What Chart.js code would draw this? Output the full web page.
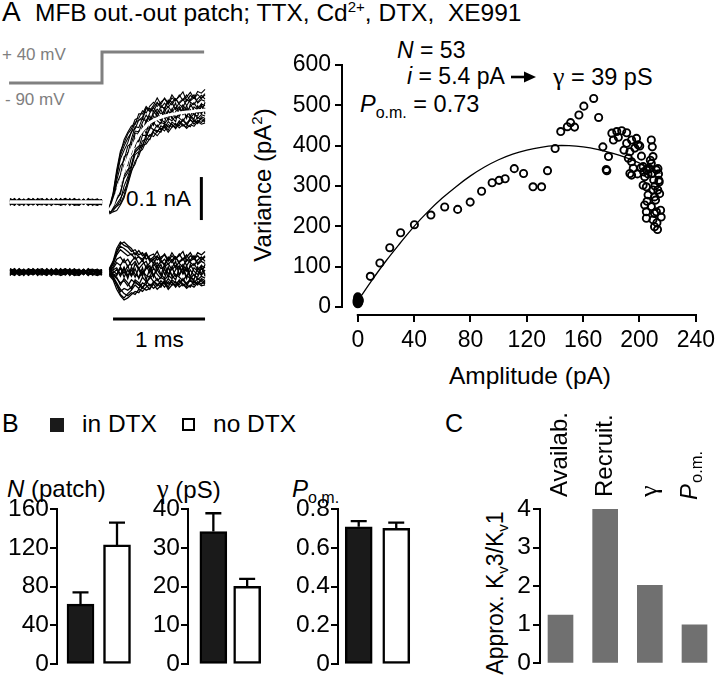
<!DOCTYPE html>
<html><head><meta charset="utf-8">
<script src="https://cdn.jsdelivr.net/npm/chart.js@4.4.1/dist/chart.umd.min.js"></script>
<style>
body{margin:0;width:720px;height:675px;background:#fff;position:relative;overflow:hidden;font-family:"Liberation Sans",Arial,Helvetica,sans-serif;color:#000}
canvas{position:absolute}
.t{position:absolute;white-space:nowrap;line-height:1}
.rot{position:absolute;white-space:nowrap;line-height:1;transform:translate(-50%,-50%) rotate(-90deg)}
.sub{font-size:16px;position:relative;top:6px}
.sup{font-size:15px;position:relative;top:-9px}
.g{font-family:"Liberation Serif","Times New Roman",serif;font-size:1.1em}
</style></head><body>

<div class="t" style="left:2px;top:-2px;font-size:28px">A</div>
<div class="t" style="left:35px;top:1px;font-size:24.5px">MFB out.-out patch; TTX, Cd<span class="sup">2+</span>, DTX,&nbsp; XE991</div>
<div class="t" style="left:2px;top:46px;font-size:17px;color:#808080">+ 40 mV</div>
<div class="t" style="left:5px;top:91px;font-size:17px;color:#808080">- 90 mV</div>
<div class="t" style="left:126px;top:188px;font-size:22.5px">0.1 nA</div>
<div class="t" style="left:135px;top:329px;font-size:22.5px">1 ms</div>

<div class="t" style="left:397px;top:39px;font-size:23px"><i>N</i> = 53</div>
<div class="t" style="left:407px;top:65px;font-size:23px"><i>i</i> = 5.4 pA</div>
<svg style="position:absolute;left:511px;top:71px" width="26" height="12"><line x1="0" y1="6" x2="15" y2="6" stroke="#000" stroke-width="2.6"/><polygon points="13,0.5 25,6 13,11.5" fill="#000"/></svg>
<div class="t" style="left:553px;top:64px;font-size:23.5px"><span class="g">γ</span> = 39 pS</div>
<div class="t" style="left:360px;top:93px;font-size:23.5px"><i>P</i><span class="sub">o.m.</span> = 0.73</div>
<div class="rot" style="left:263px;top:185px;font-size:24px">Variance (pA<span class="sup">2</span>)</div>
<div class="t" style="left:430px;top:364px;font-size:24.5px;width:200px;text-align:center">Amplitude (pA)</div>

<div class="t" style="left:2px;top:411px;font-size:25px">B</div>
<div style="position:absolute;left:50px;top:418px;width:14px;height:14px;background:#1a1a1a"></div>
<div class="t" style="left:82px;top:412px;font-size:24.5px">in DTX</div>
<div style="position:absolute;left:182px;top:418px;width:9px;height:9px;border:2.5px solid #000;background:#fff"></div>
<div class="t" style="left:213px;top:412px;font-size:24.5px">no DTX</div>
<div class="t" style="left:7px;top:477px;font-size:24px"><i>N</i> (patch)</div>
<div class="t" style="left:157px;top:476px;font-size:24px"><span class="g">γ</span> (pS)</div>
<div class="t" style="left:292px;top:477px;font-size:24px"><i>P</i><span class="sub">o.m.</span></div>

<div class="t" style="left:445px;top:411px;font-size:25px">C</div>
<div class="rot" style="left:495px;top:593px;font-size:23px">Approx. K<span class="sub" style="font-size:15px;top:5px">v</span>3/K<span class="sub" style="font-size:15px;top:5px">v</span>1</div>

<canvas id="traces" width="220" height="290" style="left:0;top:40px"></canvas>
<canvas id="scatter" width="440" height="310" style="left:280px;top:45px"></canvas>
<canvas id="b1" width="145" height="190" style="left:0;top:490px"></canvas>
<canvas id="b2" width="140" height="190" style="left:130px;top:490px"></canvas>
<canvas id="b3" width="140" height="190" style="left:280px;top:490px"></canvas>
<canvas id="c1" width="240" height="280" style="left:480px;top:400px"></canvas>

<script>
// ---------- DATA ----------
// Panel A, traces (time in ms, current in pA)
const traceTimeBase = [-1.0,-0.95,-0.9,-0.85,-0.8,-0.75,-0.7,-0.65,-0.6,-0.55,-0.5,-0.45,-0.4,-0.35,-0.3,-0.25,-0.2,-0.15,-0.1,-0.05,0.0];
const traceTimePost = [0.08,0.12,0.16,0.20,0.24,0.28,0.32,0.36,0.40,0.44,0.48,0.52,0.56,0.60,0.64,0.68,0.72,0.76,0.80,0.84,0.88,0.92,0.96,1.00,1.04,1.08,1.12];
const meanBase = [0,0,0,0,0,0,0,0,0,0,0,0,0,0,0,0,0,0,0,0,0];
const meanPost = [-20,-5,20,48,75,100,122,140,155,167,177,185,190,194,197,200,202,204,205,207,208,209,210,211,212,213,214];
const devBase = [
 [5,-3,7,2,-5,8,0,-6,3,5,-2,7,-5,2,8,-3,5,-7,2,3,-2],
 [-7,2,-3,5,-8,0,3,-5,7,-2,-6,3,0,-5,2,6,-3,0,-8,5,2],
 [2,8,-5,-2,6,-3,8,2,-6,0,5,-5,8,3,-3,0,6,-2,5,-6,3],
 [-3,-8,3,-6,2,5,-7,3,0,-8,2,-2,-6,5,-5,-8,0,3,-3,-2,-5],
 [8,3,-2,6,0,-5,5,8,-3,6,0,5,2,-3,7,3,-5,8,0,2,6],
 [-5,0,-8,-3,5,-6,-2,-3,-8,3,-5,-7,-3,0,-8,-5,2,-6,-5,-8,-3],
 [0,5,2,-5,8,3,-5,6,2,-3,8,0,5,-8,3,2,-6,5,7,-3,0],
 [3,-5,6,0,-3,-2,7,-2,5,2,-3,8,-2,6,0,-6,3,-3,2,6,-6],
 [-6,4,0,7,-3,-6,4,1,-7,5,3,-4,6,-2,-7,5,1,-5,6,-1,4],
 [4,-7,5,-2,-6,2,6,-5,4,-4,7,-3,-1,7,-4,3,-6,4,-2,-7,5],
 [7,0,-4,4,3,-7,1,5,-5,8,-6,2,4,-6,5,-2,7,-3,-6,5,-1],
 [-2,6,-6,1,7,-1,-5,-7,6,-3,4,-8,-4,5,-1,7,-4,6,3,-4,-7],
 [1,-6,3,-8,4,6,-3,2,-4,7,-5,5,-7,1,6,-5,2,-8,4,7,-2],
 [-8,5,-1,3,-7,4,-6,7,1,-5,2,-1,6,-4,3,-7,5,0,-4,3,6],
 [6,-1,8,-4,1,-3,5,-4,8,-1,-6,6,-3,8,-6,4,-2,7,-5,1,-4],
 [-4,7,-3,5,-1,7,-8,3,-2,6,-4,3,8,-5,2,-3,6,-4,5,-3,3]
];
const devPost = [
 [8,25,55,70,62,58,48,52,40,45,30,38,42,28,35,40,25,38,30,42,28,35,45,30,38,28,35],
 [-6,-10,-25,-40,-50,-55,-48,-52,-40,-45,-35,-28,-38,-30,-25,-35,-22,-30,-28,-20,-32,-25,-18,-30,-22,-28,-20],
 [3,12,30,35,22,30,15,25,8,18,25,5,15,22,8,12,20,5,15,8,18,2,12,20,5,15,10],
 [-3,-8,-15,-25,-20,-32,-18,-25,-30,-12,-22,-15,-5,-20,-12,-18,-8,-15,-5,-12,-20,-8,-15,-5,-18,-10,-14],
 [5,18,40,52,45,38,42,30,36,25,40,32,20,35,28,15,32,22,35,20,12,30,22,15,28,35,25],
 [-5,-15,-30,-45,-38,-42,-35,-22,-30,-38,-20,-32,-25,-15,-30,-22,-35,-18,-25,-30,-15,-28,-20,-25,-15,-22,-28],
 [1,5,10,-5,12,-8,5,-12,10,-5,8,15,-8,5,18,-5,10,-10,5,15,-5,8,-12,10,2,-8,5],
 [-1,-4,-8,10,-12,5,-10,8,-15,2,-8,-12,10,-5,-15,8,-12,12,-10,-5,12,-12,5,-8,-12,10,-6],
 [4,20,45,60,55,48,40,45,35,30,42,25,30,38,22,30,18,28,35,22,30,40,25,32,20,30,38],
 [-4,-12,-30,-52,-60,-50,-42,-30,-38,-25,-30,-40,-22,-28,-35,-18,-28,-22,-35,-25,-18,-30,-35,-20,-28,-18,-25],
 [2,8,22,15,30,12,25,35,18,28,10,22,30,12,25,18,35,28,10,25,32,15,28,38,18,25,20],
 [-2,-6,-12,-30,-15,-25,-40,-18,-25,-35,-28,-10,-22,-32,-20,-28,-15,-25,-32,-18,-28,-35,-12,-22,-30,-15,-20],
 [0,3,-5,12,-3,15,-8,20,5,-10,15,-2,22,5,-8,18,-5,10,25,-8,8,-15,18,2,-6,15,-10],
 [1,-2,6,-10,8,-15,12,-5,-12,10,-18,8,-12,15,-5,-15,12,-8,-18,10,-2,15,-10,-18,12,-5,18],
 [6,22,48,65,70,62,55,40,50,38,45,28,35,48,30,42,28,45,32,38,48,25,38,30,45,40,48],
 [-8,-18,-40,-55,-65,-60,-52,-45,-48,-35,-42,-38,-28,-40,-32,-25,-40,-30,-22,-35,-28,-38,-30,-35,-25,-32,-30]
];
const lowerOffset = -163;           // pA offset of the variance traces
const protocolTime = [-1.01, 0, 0, 1.11];
const protocolMv = [-90, -90, 40, 40];
const scaleBarMs = 1, scaleBarPa = 100;
const scaleBarTimeEnd = 1.12, scaleBarHorizY = -272, scaleBarVertX = 1.08, scaleBarVertBottom = -42;

// Panel A, variance vs amplitude
const scatterAmp = [0,0,0,0,0,0.5,0.5,1,-0.5,0,1,-0.5,
 8.9,15.7,22.7,30.4,40.2,51.9,61.7,70.9,79.8,87.9,95.4,100.3,104.6,111.1,117.7,124.4,130.5,134.7,140.1,
 144.1,148.8,151.1,153.9,157,160.5,167.5,171,174,178,176.4,176.8,
 180.4,183.9,187.4,190.9,181.5,185,190.9,194.4,197.9,199.1,189,193.2,196.7,192.1,194.4,195.6,193.2,194.4,
 201.4,202.6,203.7,204.9,206.1,202.6,203.7,204.9,204.9,205.4,
 208.4,209.1,209.6,208.4,209.1,210.1,209.6,210.7,208.4,210.7,209.6,210.7,
 212.4,212.8,213.1,213.8,214.3,215,215.4,212,213.5,211.4,212,207.2,207.7,206,200.2,198.5,205,211,214,213,201,203];
const scatterVar = [8,12,15,18,22,10,20,14,16,25,18,11,
 76,109,147,184,204,228,248,242,260,287,308,314,318,343,331,298,298,338,393,
 435,447,457,446,476,498,517,470,397,373,341,338,
 431,435,437,432,414,421,406,414,418,402,389,385,394,369,360,344,331,327,
 374,348,323,298,278,302,253,236,220,262,
 414,397,373,356,331,315,290,273,249,232,216,199,
 209,192,343,314,281,240,223,340,330,265,236,343,364,330,399,330,340,300,310,290,345,335];
const fitAmp = [0,10,20,30,40,50,60,70,80,90,100,110,120,130,140,150,160,170,180,190,200,210,215];
const fitVar = [15,66,114,158,200,237,270,299,325,347,365,379,389,396,400,400,397,391,382,371,357,341,331];
const scatterXTicks = [0,40,80,120,160,200,240];
const scatterYTicks = [0,100,200,300,400,500,600];

// Panel B
const groups = ['in DTX','no DTX'];
const groupFills = ['#1a1a1a','#ffffff'];
const nPatch = [62,123],   nPatchErr = [12,23];
const gammaPs = [34.2,20.1], gammaErr = [4.7,1.9];
const pOm = [0.708,0.70],  pOmErr = [0.03,0.03];
const nTicks = [0,40,80,120,160];
const gTicks = [0,10,20,30,40];
const pTicks = [0,0.2,0.4,0.6,0.8];

// Panel C
const cCategories = ['Availab.','Recruit.','γ','Po.m.'];
const cRatio = [1.25,4.02,2.02,1.0];
const cTicks = [0,1,2,3,4];

// ---------- CHARTS ----------
const FONT = "'Liberation Sans', Arial, Helvetica, sans-serif";
const SERIF = "'Liberation Serif', 'Times New Roman', serif";
Chart.defaults.font.family = FONT;
Chart.defaults.color = '#000';
Chart.defaults.animation = false;

const prismAxes = {
  id:'prismAxes',
  afterDraw(chart, args, opts){
    if(!opts || !opts.x) return;
    const ctx = chart.ctx, xs = chart.scales.x, ys = chart.scales.y, ca = chart.chartArea;
    ctx.save(); ctx.strokeStyle='#000'; ctx.lineWidth=2;
    ctx.beginPath();
    ctx.moveTo(ca.left-1, ys.getPixelForValue(opts.y[1])-1);
    ctx.lineTo(ca.left-1, ys.getPixelForValue(opts.y[0])+1);
    ctx.moveTo(xs.getPixelForValue(opts.x[0])-1, ca.bottom+1);
    ctx.lineTo(xs.getPixelForValue(opts.x[1])+1, ca.bottom+1);
    ctx.stroke(); ctx.restore();
  }
};
const errorBars = {
  id:'errorBars',
  afterDatasetsDraw(chart){
    const ctx = chart.ctx, ys = chart.scales.y;
    chart.data.datasets.forEach((ds,di)=>{
      if(!ds.errors) return;
      chart.getDatasetMeta(di).data.forEach((el,i)=>{
        const v = ds.data[i].y;
        const yTop = ys.getPixelForValue(v + ds.errors[i]);
        ctx.save(); ctx.strokeStyle='#000'; ctx.lineWidth=2.3;
        ctx.beginPath();
        ctx.moveTo(el.x, el.y); ctx.lineTo(el.x, yTop);
        ctx.moveTo(el.x-8, yTop); ctx.lineTo(el.x+8, yTop);
        ctx.stroke(); ctx.restore();
      });
    });
  }
};
const catLabels = {
  id:'catLabels',
  afterDraw(chart, args, opts){
    if(!opts || !opts.labels) return;
    const ctx = chart.ctx, xs = chart.scales.x, y0 = chart.chartArea.top - opts.gap;
    opts.labels.forEach((lab,i)=>{
      const x = xs.getPixelForValue(i+1);
      ctx.save(); ctx.fillStyle='#000'; ctx.textAlign='left'; ctx.textBaseline='middle';
      if(lab === 'Po.m.'){
        ctx.translate(x-4, y0+3); ctx.rotate(-Math.PI/2);
        ctx.font = 'italic 24px '+FONT; ctx.fillText('P',0,0);
        const w = ctx.measureText('P').width;
        ctx.font = '16.5px '+FONT; ctx.fillText('o.m.', w+1, 7);
      } else if(lab === 'γ'){
        ctx.translate(x, y0); ctx.rotate(-Math.PI/2);
        ctx.font = '26px '+SERIF; ctx.fillText(lab,0,0);
      } else {
        ctx.translate(x, y0); ctx.rotate(-Math.PI/2);
        ctx.font = '24px '+FONT; ctx.fillText(lab,0,0);
      }
      ctx.restore();
    });
  }
};

function xy(xs, ys, off){ return xs.map((x,i)=>({x:x, y:ys[i]+(off||0)})); }
function ln(data, color, width, order, yAxisID){
  return {type:'line', data:data, borderColor:color, borderWidth:width, pointRadius:0, tension:0, fill:false, order:order, yAxisID:yAxisID||'y'};
}

// Traces
const traceSets = [];
traceSets.push(ln(xy(traceTimeBase, meanBase), '#fff', 3.5, 0));
traceSets.push(ln(xy(traceTimePost, meanPost), '#fff', 3, 0));
devBase.forEach(d=>traceSets.push(ln(xy(traceTimeBase, d), '#000', 1.1, 1)));
devPost.forEach(d=>traceSets.push(ln(traceTimePost.map((t,i)=>({x:t, y:meanPost[i]+d[i]})), '#000', 1.1, 1)));
devBase.forEach(d=>traceSets.push(ln(xy(traceTimeBase, d, lowerOffset), '#000', 1.2, 1)));
devPost.forEach(d=>traceSets.push(ln(xy(traceTimePost, d, lowerOffset), '#000', 1.3, 1)));
traceSets.push(ln(xy(protocolTime, protocolMv), '#808080', 3, 1, 'mv'));
traceSets.push(ln([{x:scaleBarTimeEnd-scaleBarMs, y:scaleBarHorizY},{x:scaleBarTimeEnd, y:scaleBarHorizY}], '#000', 3, 1));
traceSets.push(ln([{x:scaleBarVertX, y:scaleBarVertBottom},{x:scaleBarVertX, y:scaleBarVertBottom+scaleBarPa}], '#000', 3, 1));

new Chart(document.getElementById('traces'), {
  type:'line',
  data:{datasets:traceSets},
  options:{responsive:false, animation:false, layout:{padding:0},
    plugins:{legend:{display:false}, tooltip:{enabled:false}},
    scales:{
      x:{type:'linear', min:-1.1087, max:1.2826, display:false},
      y:{type:'linear', min:-297.7, max:376.7, display:false},
      mv:{type:'linear', min:-1125.8, max:90.32, display:false}
    }}
});

// Scatter
new Chart(document.getElementById('scatter'), {
  type:'scatter',
  data:{datasets:[
    {type:'line', data:xy(fitAmp, fitVar), borderColor:'#000', borderWidth:1.3, pointRadius:0, tension:0.4, fill:false, order:0},
    {data:xy(scatterAmp, scatterVar), pointRadius:3.6, pointBorderWidth:1.9, borderColor:'#000', pointBorderColor:'#000', backgroundColor:'rgba(0,0,0,0)', pointBackgroundColor:'rgba(0,0,0,0)', order:1}
  ]},
  options:{responsive:false, animation:false, layout:{padding:{top:20,right:20,left:0,bottom:0}},
    plugins:{legend:{display:false}, tooltip:{enabled:false}, prismAxes:{x:[0,240], y:[0,600]}},
    scales:{
      x:{type:'linear', min:-10.5, max:240,
         afterBuildTicks:s=>{s.ticks=scatterXTicks.map(v=>({value:v}));},
         afterFit:s=>{s.height=41;},
         grid:{drawOnChartArea:false, tickLength:8, color:'#000', lineWidth:2},
         border:{display:false},
         ticks:{font:{size:23}, padding:5, maxRotation:0, autoSkip:false, color:'#000'}},
      y:{type:'linear', min:-17.4, max:600,
         afterBuildTicks:s=>{s.ticks=scatterYTicks.map(v=>({value:v}));},
         afterFit:s=>{s.width=63;},
         grid:{drawOnChartArea:false, tickLength:8, color:'#000', lineWidth:2},
         border:{display:false},
         ticks:{font:{size:23}, padding:4, autoSkip:false, color:'#000'}}
    }},
  plugins:[prismAxes]
});

function barChart(id, values, errs, ticks, xmin, xmax, axisW, thick){
  new Chart(document.getElementById(id), {
    type:'bar',
    data:{datasets:[{data:values.map((v,i)=>({x:i+1, y:v})), errors:errs, label:groups.join('/'),
      backgroundColor:groupFills, borderColor:'#000', borderWidth:2.5, borderSkipped:false, barThickness:thick}]},
    options:{responsive:false, animation:false, layout:{padding:{top:19,bottom:15,right:5,left:0}},
      plugins:{legend:{display:false}, tooltip:{enabled:false}},
      scales:{
        x:{type:'linear', min:xmin, max:xmax, offset:false, bounds:'data', grid:{offset:false}, display:false},
        y:{min:ticks[0], max:ticks[ticks.length-1],
           afterBuildTicks:s=>{s.ticks=ticks.map(v=>({value:v}));},
           afterFit:s=>{s.width=axisW;},
           grid:{drawOnChartArea:false, tickLength:7, color:'#000', lineWidth:2},
           border:{display:true, color:'#000', width:2},
           ticks:{font:{size:24.5}, padding:1, color:'#000', autoSkip:false}}
      }},
    plugins:[errorBars]
  });
}
barChart('b1', nPatch, nPatchErr, nTicks, 0.356, 2.63, 57, 27);
barChart('b2', gammaPs, gammaErr, gTicks, 0.25, 2.528, 58, 27);
barChart('b3', pOm, pOmErr, pTicks, 0.448, 2.50, 58, 27);

// Panel C
new Chart(document.getElementById('c1'), {
  type:'bar',
  data:{datasets:[{data:cRatio.map((v,i)=>({x:i+1, y:v})), label:'ratio', backgroundColor:'#707070', borderWidth:0, barThickness:25}]},
  options:{responsive:false, animation:false, layout:{padding:{top:109,bottom:16,right:5,left:0}},
    plugins:{legend:{display:false}, tooltip:{enabled:false}, catLabels:{labels:cCategories, gap:12}},
    scales:{
      x:{type:'linear', min:0.541, max:4.459, offset:false, bounds:'data', grid:{offset:false}, display:false},
      y:{min:0, max:4,
         afterBuildTicks:s=>{s.ticks=cTicks.map(v=>({value:v}));},
         afterFit:s=>{s.width=60;},
         grid:{drawOnChartArea:false, tickLength:7, color:'#000', lineWidth:2},
         border:{display:true, color:'#000', width:2},
         ticks:{font:{size:24.5}, padding:2, color:'#000', autoSkip:false}}
    }},
  plugins:[catLabels]
});
</script>
</body></html>
